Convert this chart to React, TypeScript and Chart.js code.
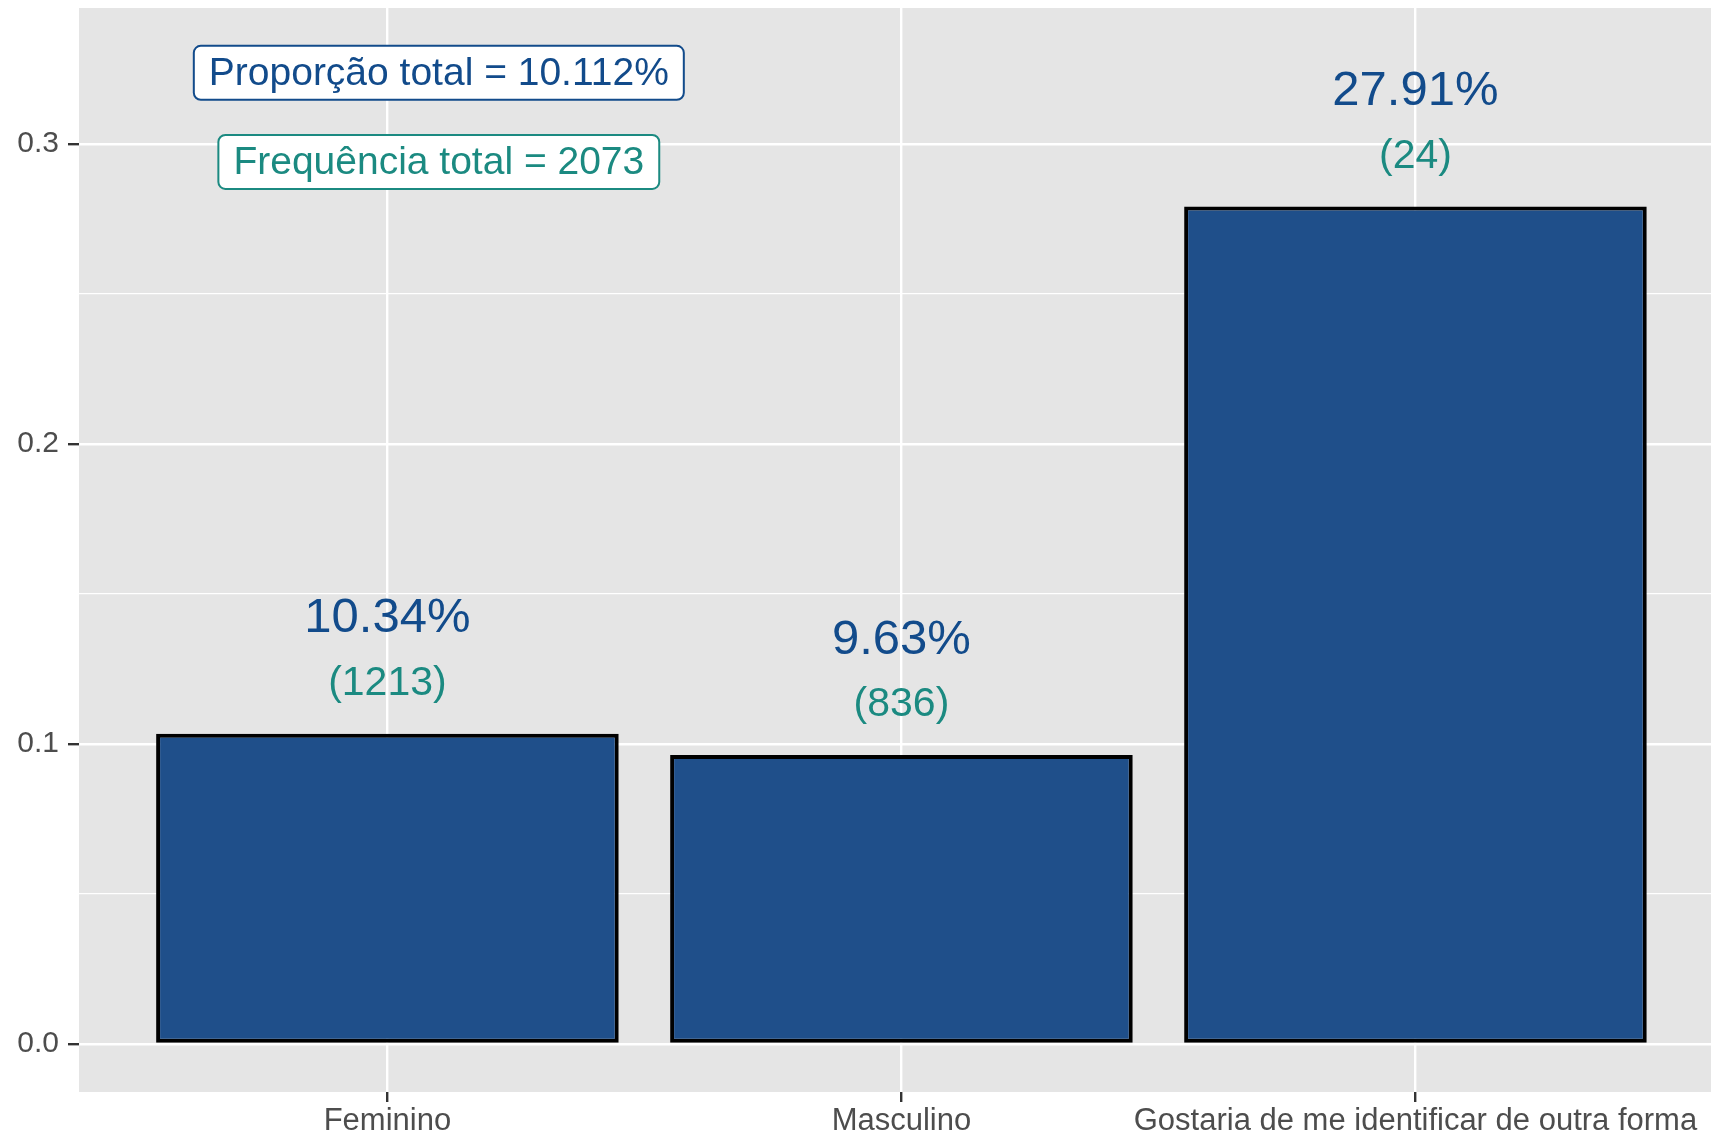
import { useEffect, useRef } from 'react';
import { Chart, registerables } from 'chart.js';

Chart.register(...registerables);

const categories = ['Feminino', 'Masculino', 'Gostaria de me identificar de outra forma'];
const categoryPositions = [1, 2, 3];
const proportions = [0.1034, 0.0963, 0.2791];
const counts = [1213, 836, 24];
const yMajorTicks = [0, 0.1, 0.2, 0.3];
const yMinorTicks = [0.05, 0.15, 0.25];
const totalProportionLabel = 'Proporção total = 10.112%';
const totalFrequencyLabel = 'Frequência total = 2073';
// annotation anchors in data coordinates (x category units, y proportion)
const annotationX = 1.1;
const annotationY = [0.3237, 0.294];

const BLUE = '#124b8b';
const TEAL = '#1b8a81';
const BAR_FILL = '#1f4f8a';
const PANEL = '#e5e5e5';
const FONT = '"Liberation Sans", Arial, Helvetica, sans-serif';

const isMajorY = (v: number) => yMajorTicks.some((m) => Math.abs(m - v) < 1e-9);

function roundRect(ctx: CanvasRenderingContext2D, x: number, y: number, w: number, h: number, r: number) {
  ctx.beginPath();
  ctx.moveTo(x + r, y);
  ctx.lineTo(x + w - r, y);
  ctx.arcTo(x + w, y, x + w, y + r, r);
  ctx.lineTo(x + w, y + h - r);
  ctx.arcTo(x + w, y + h, x + w - r, y + h, r);
  ctx.lineTo(x + r, y + h);
  ctx.arcTo(x, y + h, x, y + h - r, r);
  ctx.lineTo(x, y + r);
  ctx.arcTo(x, y, x + r, y, r);
  ctx.closePath();
}

const panelPlugin = {
  id: 'panelBg',
  beforeDraw(chart: any) {
    const { ctx, chartArea } = chart;
    ctx.save();
    ctx.fillStyle = PANEL;
    ctx.fillRect(chartArea.left, chartArea.top, chartArea.right - chartArea.left, chartArea.bottom - chartArea.top);
    ctx.restore();
  },
};

const labelPlugin = {
  id: 'barLabels',
  afterDatasetsDraw(chart: any) {
    const { ctx, scales } = chart;
    const meta = chart.getDatasetMeta(0);
    ctx.save();
    ctx.textAlign = 'center';
    ctx.textBaseline = 'middle';
    meta.data.forEach((bar: any, i: number) => {
      const x = bar.x;
      const top = bar.y;
      ctx.fillStyle = BLUE;
      ctx.font = `49px ${FONT}`;
      ctx.fillText((proportions[i] * 100).toFixed(2) + '%', x, top - 115);
      ctx.fillStyle = TEAL;
      ctx.font = `41px ${FONT}`;
      ctx.fillText('(' + counts[i] + ')', x, top - 50);
    });

    const boxes = [
      { text: totalProportionLabel, color: BLUE, y: annotationY[0] },
      { text: totalFrequencyLabel, color: TEAL, y: annotationY[1] },
    ];
    ctx.font = `39px ${FONT}`;
    boxes.forEach((b) => {
      const cx = scales.x.getPixelForValue(annotationX);
      const cy = scales.y.getPixelForValue(b.y);
      const w = ctx.measureText(b.text).width + 30;
      const h = 54;
      roundRect(ctx, cx - w / 2, cy - h / 2, w, h, 7);
      ctx.fillStyle = '#ffffff';
      ctx.fill();
      ctx.lineWidth = 2;
      ctx.strokeStyle = b.color;
      ctx.stroke();
      ctx.fillStyle = b.color;
      ctx.fillText(b.text, cx, cy + 1);
    });
    ctx.restore();
  },
};

export default function App() {
  const ref = useRef<HTMLCanvasElement>(null);

  useEffect(() => {
    const chart = new Chart(ref.current as HTMLCanvasElement, {
      type: 'bar',
      data: {
        datasets: [
          {
            data: categoryPositions.map((x, i) => ({ x, y: proportions[i] })),
            backgroundColor: BAR_FILL,
            borderColor: '#000000',
            borderWidth: 4,
            borderSkipped: false,
            categoryPercentage: 1,
            barPercentage: 0.9,
          },
        ],
      },
      options: {
        responsive: false,
        devicePixelRatio: 1,
        animation: false,
        layout: { padding: { top: 8, left: 0, right: 0, bottom: 0 } },
        plugins: { legend: { display: false }, tooltip: { enabled: false } },
        scales: {
          x: {
            type: 'linear',
            offset: false,
            min: 0.4,
            max: 3.575,
            afterBuildTicks: (scale: any) => {
              scale.ticks = categoryPositions.map((v) => ({ value: v }));
            },
            afterFit: (scale: any) => {
              scale.height = 47;
              scale.paddingLeft = 0;
              scale.paddingRight = 0;
              scale.paddingTop = 0;
              scale.paddingBottom = 0;
            },
            border: { display: false },
            grid: {
              offset: false,
              color: '#ffffff',
              lineWidth: 2.4,
              drawTicks: true,
              tickLength: 10,
              tickColor: '#333333',
              tickWidth: 2.4,
            },
            ticks: {
              autoSkip: false,
              maxRotation: 0,
              minRotation: 0,
              padding: 2,
              color: '#4d4d4d',
              font: { family: FONT, size: 31, lineHeight: 1.1 },
              callback: (v: any) => {
                const idx = categoryPositions.indexOf(Number(v));
                return idx >= 0 ? categories[idx] : '';
              },
            },
          },
          y: {
            type: 'linear',
            min: -0.016,
            max: 0.3453,
            afterBuildTicks: (scale: any) => {
              scale.ticks = [...yMajorTicks, ...yMinorTicks]
                .sort((a, b) => a - b)
                .map((v) => ({ value: v }));
            },
            afterFit: (scale: any) => {
              scale.width = 79;
              scale.paddingTop = 0;
              scale.paddingBottom = 0;
              scale.paddingLeft = 0;
              scale.paddingRight = 0;
            },
            border: { display: false },
            grid: {
              color: '#ffffff',
              lineWidth: (ctx: any) => (isMajorY(ctx.tick.value) ? 2.4 : 1.2),
              drawTicks: true,
              tickLength: 11,
              tickColor: (ctx: any) => (isMajorY(ctx.tick.value) ? '#333333' : 'rgba(0,0,0,0)'),
              tickWidth: 2.4,
            },
            ticks: {
              autoSkip: false,
              padding: 9,
              color: '#4d4d4d',
              font: { family: FONT, size: 30 },
              callback: (v: any) => (isMajorY(Number(v)) ? Number(v).toFixed(1) : ''),
            },
          },
        },
      },
      plugins: [panelPlugin, labelPlugin],
    } as any);
    return () => chart.destroy();
  }, []);

  return (
    <div style={{ position: 'fixed', left: 0, top: 0, width: 1711, height: 1139, background: '#ffffff' }}>
      <canvas ref={ref} width={1711} height={1139} style={{ display: 'block', width: 1711, height: 1139 }} />
    </div>
  );
}
